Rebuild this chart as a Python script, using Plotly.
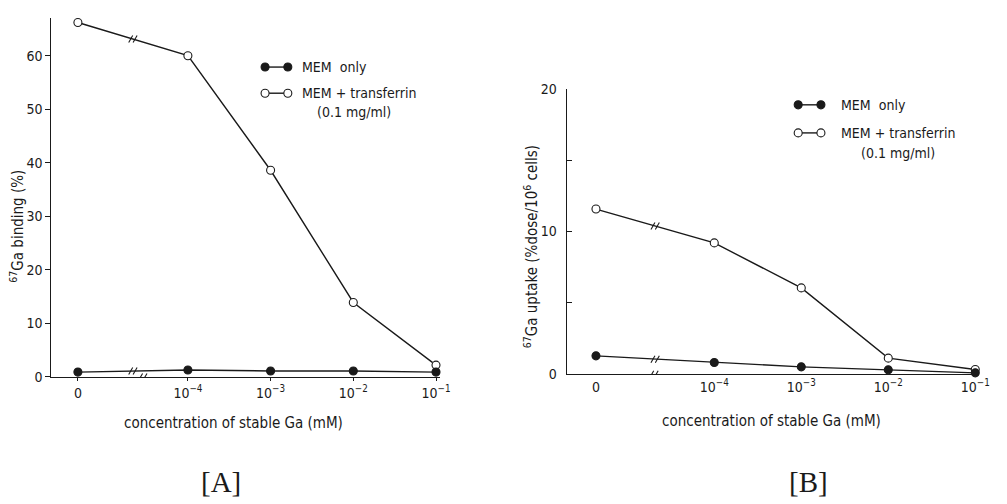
import math
import plotly.graph_objects as go

# ---- data ----
conc_labels = ["0", "10<sup>−4</sup>", "10<sup>−3</sup>", "10<sup>−2</sup>", "10<sup>−1</sup>"]
conc_mM = [0.0, 1e-4, 1e-3, 1e-2, 1e-1]

binding_mem_only = [0.9, 1.3, 1.1, 1.1, 0.9]          # panel A, filled circles
binding_mem_tf = [66.2, 60.0, 38.6, 13.9, 2.2]        # panel A, open circles
uptake_mem_only = [1.29, 0.83, 0.52, 0.31, 0.10]      # panel B, filled circles
uptake_mem_tf = [11.57, 9.2, 6.05, 1.13, 0.34]        # panel B, open circles

binding_ticks = [0, 10, 20, 30, 40, 50, 60]
uptake_ticks = [0, 10, 20]

legend_labels = ["MEM  only", "MEM + transferrin", "(0.1 mg/ml)"]

# ---- layout constants ----
W, H = 1007, 504
FONT = "DejaVu Sans Condensed, DejaVu Sans, sans-serif"
SERIF = "Liberation Serif, DejaVu Serif, serif"
INK = "#1a1a1a"


def positions(gap):
    """Broken log axis: 0 is placed `gap` decades left of the first nonzero value."""
    first = math.log10(conc_mM[1])
    return [math.log10(c) if c > 0 else first - gap for c in conc_mM]


xa = positions(1.33)
xb = positions(1.36)

fig = go.Figure()


def add_series(x, y, xaxis, yaxis, filled, name):
    fig.add_trace(go.Scatter(
        x=x, y=y, mode="lines+markers", xaxis=xaxis, yaxis=yaxis, name=name,
        showlegend=False, cliponaxis=False,
        line=dict(color=INK, width=1.4),
        marker=dict(symbol="circle", size=8,
                    color=INK if filled else "white",
                    line=dict(color=INK, width=1.1)),
    ))


add_series(xa, binding_mem_tf, "x", "y", False, "MEM + transferrin")
add_series(xa, binding_mem_only, "x", "y", True, "MEM only")
add_series(xb, uptake_mem_tf, "x2", "y2", False, "MEM + transferrin")
add_series(xb, uptake_mem_only, "x2", "y2", True, "MEM only")

shapes = []


def break_mark(xref, yref, xv, yv):
    for off in (-2.2, 2.2):
        shapes.append(dict(type="line", xref=xref, yref=yref,
                           xsizemode="pixel", ysizemode="pixel",
                           xanchor=xv, yanchor=yv,
                           x0=off - 2, x1=off + 2, y0=-3.5, y1=3.5,
                           line=dict(color=INK, width=1.1)))


def line_break(xs, ys, xref, yref):
    break_mark(xref, yref, (xs[0] + xs[1]) / 2, (ys[0] + ys[1]) / 2)


line_break(xa, binding_mem_tf, "x", "y")
line_break(xa, binding_mem_only, "x", "y")
break_mark("x", "y", xa[0] + 0.59 * (xa[1] - xa[0]), 0)
line_break(xb, uptake_mem_tf, "x2", "y2")
line_break(xb, uptake_mem_only, "x2", "y2")
break_mark("x2", "y2", xb[0] + 0.49 * (xb[1] - xb[0]), 0)

annotations = []


def px_x(v):
    return v / W


def px_y(v):
    return 1 - v / H


def legend_block(x_glyph0, x_glyph1, x_text, y_row1, y_row2, x_note, y_note):
    for yrow, filled, label in ((y_row1, True, legend_labels[0]), (y_row2, False, legend_labels[1])):
        shapes.append(dict(type="line", xref="paper", yref="paper",
                           x0=px_x(x_glyph0), x1=px_x(x_glyph1), y0=px_y(yrow), y1=px_y(yrow),
                           line=dict(color=INK, width=1.4)))
        for gx in (x_glyph0, x_glyph1):
            shapes.append(dict(type="circle", xref="paper", yref="paper",
                               xsizemode="pixel", ysizemode="pixel",
                               xanchor=px_x(gx), yanchor=px_y(yrow),
                               x0=-4, x1=4, y0=-4, y1=4,
                               fillcolor=INK if filled else "white",
                               line=dict(color=INK, width=1.1)))
        annotations.append(dict(text=label, xref="paper", yref="paper",
                                x=px_x(x_text), y=px_y(yrow), xanchor="left", yanchor="middle",
                                showarrow=False, font=dict(family=FONT, size=14, color=INK)))
    annotations.append(dict(text=legend_labels[2], xref="paper", yref="paper",
                            x=px_x(x_note), y=px_y(y_note), xanchor="center", yanchor="middle",
                            showarrow=False, font=dict(family=FONT, size=14, color=INK)))


legend_block(268, 291, 303, 61, 88, 358, 107)
legend_block(807, 830, 848, 100, 129, 908, 150)


def text(t, x, y, size=14, angle=0, family=FONT):
    annotations.append(dict(text=t, xref="paper", yref="paper", x=px_x(x), y=px_y(y),
                            xanchor="center", yanchor="middle", showarrow=False,
                            textangle=angle, font=dict(family=family, size=size, color=INK)))


text("<sup>67</sup>Ga binding (%)", 17, 225, size=15, angle=-90)
text("<sup>67</sup>Ga uptake (%dose/10<sup>6</sup> cells)", 537, 247, size=15, angle=-90)
text("concentration of stable Ga (mM)", 236, 429, size=15)
text("concentration of stable Ga (mM)", 780, 427, size=15)
text("[A]", 223, 490, size=29, family=SERIF)
text("[B]", 817, 490, size=29, family=SERIF)

axis_common = dict(showgrid=False, zeroline=False, showline=True, linecolor=INK, linewidth=1.4,
                   tickcolor=INK, tickfont=dict(family=FONT, size=14, color=INK))

fig.update_layout(
    width=W, height=H, autosize=False,
    margin=dict(l=0, r=0, t=0, b=0),
    paper_bgcolor="white", plot_bgcolor="white",
    showlegend=False,
    xaxis=dict(axis_common, domain=[52 / W, 445 / W], anchor="y",
               range=[xa[0] - 0.32, xa[-1] + 0.05],
               tickvals=xa, ticktext=conc_labels, ticks="outside", ticklen=3),
    yaxis=dict(axis_common, domain=[px_y(381), px_y(10)], anchor="x",
               range=[0, 67.1], tickvals=binding_ticks,
               ticks="outside", ticklen=5),
    xaxis2=dict(axis_common, domain=[573 / W, 990 / W], anchor="y2",
                range=[xb[0] - 0.336, xb[-1] + 0.045],
                tickvals=xb, ticktext=conc_labels, ticks=""),
    yaxis2=dict(axis_common, domain=[px_y(378.3), px_y(83.3)], anchor="x2",
                range=[0, 20], tickvals=uptake_ticks,
                ticks="inside", ticklen=5, ticklabelstandoff=6,
                minor=dict(dtick=5, ticks="inside", ticklen=5, tickcolor=INK, showgrid=False)),
    shapes=shapes,
    annotations=annotations,
)

fig.write_html("out.html")
